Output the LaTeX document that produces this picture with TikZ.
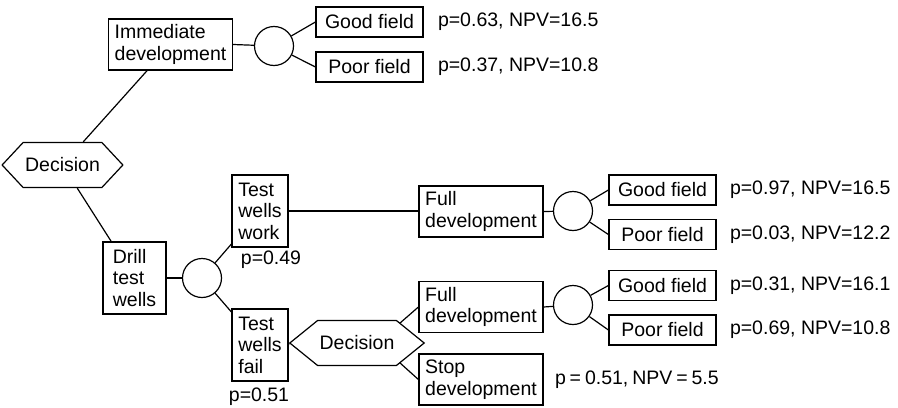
\documentclass[tikz,border=0pt]{standalone}
\usepackage{fontspec}
\setmainfont{Liberation Sans}
\usetikzlibrary{positioning,shapes.symbols}
\newcommand{\tsp}{\hspace{.2em}}
\tikzset{
  treebox/.style={draw, rectangle, line width=0.6pt, align=left, inner sep=1pt,
                  font=\fontsize{9.75}{10.75}\selectfont},
  fieldbox/.style={treebox, align=center, minimum width=53.5pt, minimum height=15pt},
  devbox/.style={treebox, minimum width=62pt, minimum height=25.5pt},
  testbox/.style={treebox, minimum width=28pt, minimum height=36pt},
  chance/.style={draw, circle, line width=0.6pt, minimum size=19.5pt, inner sep=0pt},
  decision/.style={draw, signal, signal to=west and east, line width=0.6pt,
                   minimum width=57pt, minimum height=22.5pt, inner sep=1pt,
                   font=\fontsize{9.75}{10.75}\selectfont},
  outcome/.style={inner sep=0pt, font=\fontsize{9.75}{10.75}\selectfont},
  link/.style={line width=0.6pt}}

\begin{document}
\begin{tikzpicture}[x=0.5pt, y=-0.5pt]
  \useasboundingbox (0,0) rectangle (898,407);

  % first choice
  \node[decision, signal pointer angle=94] (dec1) at (62.5,165) {Decision};
  \node[devbox] (imm) at (170.5,44.5) {Immediate\\development};
  \node[chance] (c1) at (274,46) {};
  \node[fieldbox] (good1) at (369.5,22) {Good field};
  \node[fieldbox] (poor1) at (369.5,67) {Poor field};
  \node[outcome, right=7pt of good1] (out1) {p=0.63, NPV=16.5};
  \node[outcome, right=7pt of poor1] (out2) {p=0.37, NPV=10.8};

  % test wells branch
  \node[treebox, minimum width=31.5pt, minimum height=36pt] (drill) at (134.5,278) {Drill\\test\\wells};
  \node[chance] (c2) at (202,278) {};
  \node[testbox] (work) at (260,211) {Test\\wells\\work};
  \node[testbox] (fail) at (260,345) {Test\\wells\\fail};
  \node[outcome] (pwork) at (271,260) {p=0.49};
  \node[outcome] (pfail) at (259,397) {p=0.51};

  % after test wells work
  \node[devbox] (full1) at (481,211.5) {Full\\development};
  \node[chance] (c3) at (573,211) {};
  \node[fieldbox] (good2) at (662.5,190) {Good field};
  \node[fieldbox] (poor2) at (662.5,234.5) {Poor field};
  \node[outcome, right=6.5pt of good2] (out3) {p=0.97, NPV=16.5};
  \node[outcome, right=6.5pt of poor2] (out4) {p=0.03, NPV=12.2};

  % after test wells fail
  \node[decision, signal pointer angle=78] (dec2) at (357,343) {Decision};
  \node[devbox] (full2) at (481,307) {Full\\development};
  \node[devbox] (stop) at (481,379.5) {Stop\\development};
  \node[chance] (c4) at (573,305) {};
  \node[fieldbox] (good3) at (662.5,285.5) {Good field};
  \node[fieldbox] (poor3) at (662.5,330) {Poor field};
  \node[outcome, right=6.5pt of good3] (out5) {p=0.31, NPV=16.1};
  \node[outcome, right=6.5pt of poor3] (out6) {p=0.69, NPV=10.8};
  \node[outcome, right=5.5pt of stop] (out7) {p\tsp=\tsp0.51,\tsp NPV\tsp=\tsp5.5};

  \draw[link] (dec1) -- (imm);
  \draw[link] (imm.east) -- (c1);
  \draw[link] (c1) -- (good1.west);
  \draw[link] (c1) -- (poor1.west);
  \draw[link] (dec1) -- (drill);
  \draw[link] (drill.east) -- (c2);
  \draw[link] (c2) -- (work);
  \draw[link] (c2) -- (fail);
  \draw[link] (work.east) -- (work.east -| full1.west);
  \draw[link] (full1.east) -- (c3);
  \draw[link] (c3) -- (good2.west);
  \draw[link] (c3) -- (poor2.west);
  \draw[link] (fail.east) -- (dec2.west);
  \draw[link] (dec2.25) -- (full2.west);
  \draw[link] (dec2.-25) -- (stop.west);
  \draw[link] (full2.east) -- (c4);
  \draw[link] (c4) -- (good3.west);
  \draw[link] (c4) -- (poor3.west);
\end{tikzpicture}
\end{document}
